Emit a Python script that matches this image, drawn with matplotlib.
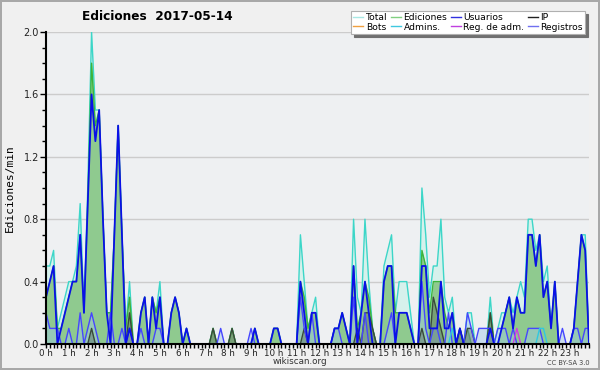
import numpy as np
import matplotlib
matplotlib.use("Agg")
import matplotlib.pyplot as plt
from matplotlib.lines import Line2D
from matplotlib.ticker import MultipleLocator, FixedLocator

# 10-minute bins, values in edits per minute
total = [
    0.5, 0.5, 0.6, 0.1, 0.2, 0.3,
    0.4, 0.4, 0.5, 0.9, 0.2, 1.0,
    2.0, 1.5, 1.5, 0.8, 0.2, 0.2,
    0.7, 1.4, 0.7, 0.1, 0.4, 0.0,
    0.0, 0.2, 0.3, 0.0, 0.3, 0.2,
    0.4, 0.0, 0.0, 0.2, 0.3, 0.2,
    0.0, 0.1, 0.0, 0.0, 0.0, 0.0,
    0.0, 0.0, 0.1, 0.0, 0.0, 0.0,
    0.0, 0.1, 0.0, 0.0, 0.0, 0.0,
    0.0, 0.1, 0.0, 0.0, 0.0, 0.0,
    0.1, 0.1, 0.0, 0.0, 0.0, 0.0,
    0.0, 0.7, 0.4, 0.1, 0.2, 0.3,
    0.0, 0.0, 0.0, 0.0, 0.1, 0.1,
    0.2, 0.1, 0.0, 0.8, 0.3, 0.2,
    0.8, 0.4, 0.1, 0.0, 0.0, 0.5,
    0.6, 0.7, 0.2, 0.4, 0.4, 0.4,
    0.2, 0.0, 0.0, 1.0, 0.7, 0.3,
    0.5, 0.5, 0.8, 0.3, 0.2, 0.3,
    0.0, 0.1, 0.0, 0.2, 0.2, 0.0,
    0.0, 0.0, 0.0, 0.3, 0.0, 0.1,
    0.2, 0.2, 0.3, 0.2, 0.3, 0.4,
    0.3, 0.8, 0.8, 0.6, 0.7, 0.4,
    0.5, 0.1, 0.4, 0.0, 0.0, 0.0,
    0.0, 0.1, 0.4, 0.7, 0.7, 0.0,
]
ediciones = [
    0.3, 0.4, 0.5, 0.1, 0.1, 0.2,
    0.3, 0.4, 0.4, 0.7, 0.2, 0.9,
    1.8, 1.4, 1.5, 0.8, 0.2, 0.2,
    0.7, 1.4, 0.7, 0.1, 0.3, 0.0,
    0.0, 0.2, 0.3, 0.0, 0.3, 0.2,
    0.3, 0.0, 0.0, 0.2, 0.3, 0.2,
    0.0, 0.1, 0.0, 0.0, 0.0, 0.0,
    0.0, 0.0, 0.1, 0.0, 0.0, 0.0,
    0.0, 0.1, 0.0, 0.0, 0.0, 0.0,
    0.0, 0.1, 0.0, 0.0, 0.0, 0.0,
    0.1, 0.1, 0.0, 0.0, 0.0, 0.0,
    0.0, 0.4, 0.3, 0.1, 0.2, 0.2,
    0.0, 0.0, 0.0, 0.0, 0.1, 0.1,
    0.2, 0.1, 0.0, 0.5, 0.1, 0.2,
    0.4, 0.3, 0.1, 0.0, 0.0, 0.4,
    0.5, 0.5, 0.2, 0.2, 0.2, 0.2,
    0.1, 0.0, 0.0, 0.6, 0.5, 0.2,
    0.4, 0.4, 0.4, 0.2, 0.1, 0.2,
    0.0, 0.1, 0.0, 0.1, 0.0, 0.0,
    0.0, 0.0, 0.0, 0.2, 0.0, 0.0,
    0.1, 0.2, 0.3, 0.1, 0.3, 0.2,
    0.2, 0.7, 0.7, 0.5, 0.7, 0.3,
    0.4, 0.1, 0.4, 0.0, 0.0, 0.0,
    0.0, 0.1, 0.4, 0.7, 0.6, 0.0,
]
usuarios = [
    0.3, 0.4, 0.5, 0.0, 0.1, 0.2,
    0.3, 0.4, 0.4, 0.7, 0.2, 0.9,
    1.6, 1.3, 1.5, 0.8, 0.2, 0.0,
    0.7, 1.4, 0.7, 0.0, 0.1, 0.0,
    0.0, 0.2, 0.3, 0.0, 0.3, 0.1,
    0.3, 0.0, 0.0, 0.2, 0.3, 0.2,
    0.0, 0.1, 0.0, 0.0, 0.0, 0.0,
    0.0, 0.0, 0.0, 0.0, 0.0, 0.0,
    0.0, 0.0, 0.0, 0.0, 0.0, 0.0,
    0.0, 0.1, 0.0, 0.0, 0.0, 0.0,
    0.1, 0.1, 0.0, 0.0, 0.0, 0.0,
    0.0, 0.4, 0.2, 0.0, 0.2, 0.2,
    0.0, 0.0, 0.0, 0.0, 0.1, 0.1,
    0.2, 0.1, 0.0, 0.5, 0.0, 0.2,
    0.4, 0.2, 0.0, 0.0, 0.0, 0.4,
    0.5, 0.5, 0.0, 0.2, 0.2, 0.2,
    0.1, 0.0, 0.0, 0.5, 0.5, 0.1,
    0.1, 0.1, 0.4, 0.1, 0.1, 0.2,
    0.0, 0.1, 0.0, 0.0, 0.0, 0.0,
    0.0, 0.0, 0.0, 0.1, 0.0, 0.0,
    0.1, 0.2, 0.3, 0.1, 0.3, 0.2,
    0.2, 0.7, 0.7, 0.5, 0.7, 0.3,
    0.4, 0.1, 0.4, 0.0, 0.0, 0.0,
    0.0, 0.1, 0.4, 0.7, 0.6, 0.0,
]
ip = [0.0] * 144
for _i, _v in [(12, 0.1), (22, 0.2), (44, 0.1), (49, 0.1), (68, 0.1), (82, 0.1),
               (84, 0.2), (85, 0.2), (86, 0.1), (99, 0.1), (102, 0.3), (103, 0.2),
               (104, 0.1), (109, 0.1), (111, 0.1), (112, 0.1), (117, 0.2)]:
    ip[_i] = _v
registros = [0.0] * 144
for _i, _v in [(0, 0.2), (1, 0.1), (2, 0.1), (3, 0.1), (6, 0.1), (9, 0.2), (11, 0.1),
               (12, 0.2), (13, 0.1), (17, 0.2), (20, 0.1), (22, 0.1), (25, 0.1),
               (29, 0.1), (30, 0.1), (46, 0.1), (54, 0.1), (67, 0.3), (68, 0.1),
               (70, 0.2), (76, 0.1), (77, 0.1), (81, 0.3), (84, 0.2), (90, 0.1),
               (91, 0.2), (99, 0.4), (100, 0.1), (102, 0.1), (103, 0.1), (106, 0.2),
               (111, 0.2), (112, 0.1), (114, 0.1), (115, 0.1), (116, 0.1), (117, 0.1),
               (119, 0.1), (120, 0.1), (121, 0.1), (123, 0.1), (127, 0.1), (128, 0.1),
               (129, 0.1), (130, 0.1), (136, 0.1), (139, 0.1), (140, 0.1), (142, 0.1),
               (143, 0.1)]:
    registros[_i] = _v
admins = [0.0] * 144
for _i, _v in [(107, 0.1), (130, 0.1), (131, 0.1)]:
    admins[_i] = _v
reg_adm = [0.0] * 144
reg_adm[124] = 0.1
bots = [0.0] * 144

hour_labels = [f"{h} h" for h in range(24)]
y_labels = ["0.0", "0.4", "0.8", "1.2", "1.6", "2.0"]

x = np.arange(144) / 6.0

fig = plt.figure(figsize=(6.0, 3.7), dpi=100)
fig.patch.set_facecolor("#f0f0f0")
fig.patch.set_edgecolor("#a8a8a8")
fig.patch.set_linewidth(1.5)
ax = fig.add_axes([46 / 600, 26 / 370, 543 / 600, 312 / 370])
ax.set_facecolor("#eef0f2")

# Total
ax.fill_between(x, total, 0, color="#d6f1ec", lw=0, zorder=1)
ax.plot(x, total, color="#3cd6c8", lw=1.0, zorder=2)
# Ediciones
ax.fill_between(x, ediciones, 0, color="#8fca8f", lw=0, zorder=3)
ax.plot(x, ediciones, color="#3cb43c", lw=1.0, zorder=4)
# Registros
ax.fill_between(x, registros, 0, color="#a0c8e8", alpha=0.45, lw=0, zorder=5)
# IP
ax.fill_between(x, ip, 0, color="#404040", alpha=0.3, lw=0, zorder=5)
ax.plot(x, ip, color="#3a4a3a", lw=1.0, zorder=6)
ax.plot(x, registros, color="#4646ff", lw=1.0, zorder=6)
ax.plot(x, admins, color="#30c8e0", lw=1.0, zorder=6)
ax.plot(x, bots, color="#f0a040", lw=1.0, zorder=6)
ax.plot(x, reg_adm, color="#d040e0", lw=1.0, zorder=6)
# Usuarios
ax.plot(x, usuarios, color="#0a10e8", lw=1.3, zorder=7)

ax.set_xlim(0, 143 / 6)
ax.set_ylim(0, 2.0)
ax.yaxis.set_major_locator(FixedLocator([0, 0.4, 0.8, 1.2, 1.6, 2.0]))
ax.set_yticklabels(y_labels)
ax.yaxis.set_minor_locator(MultipleLocator(0.1))
ax.xaxis.set_major_locator(FixedLocator(list(range(24))))
ax.set_xticklabels(hour_labels)
ax.xaxis.set_minor_locator(MultipleLocator(1 / 6))
ax.grid(axis="y", which="major", color="#cccccc", lw=1.0)
ax.set_axisbelow(True)
for s in ["top", "right"]:
    ax.spines[s].set_visible(False)
for s in ["left", "bottom"]:
    ax.spines[s].set_linewidth(1.5)
    ax.spines[s].set_zorder(10)
ax.tick_params(axis="y", which="major", labelsize=7, length=4, width=1, pad=1,
               color="black", labelcolor="#222222")
ax.tick_params(axis="x", which="major", labelsize=6.3, length=3, width=1, pad=0.5,
               color="black", labelcolor="#222222")
ax.tick_params(axis="both", which="minor", length=3, width=1)
ax.set_ylabel("Ediciones/min", family="DejaVu Sans Mono", fontsize=8, labelpad=6)

fig.text(0.263, 0.955, "Ediciones  2017-05-14", fontsize=8.7, fontweight="bold",
         ha="center", va="center")
fig.text(0.5, 0.022, "wikiscan.org", fontsize=6.3, ha="center", va="center", color="#333333")
fig.text(0.983, 0.020, "CC BY-SA 3.0", fontsize=4.8, ha="right", va="center", color="#444444")

leg_items = [
    ("Total", "#a8e8e4"), ("Bots", "#f0a040"),
    ("Ediciones", "#80d080"), ("Admins.", "#40c8e0"),
    ("Usuarios", "#3030e0"), ("Reg. de adm.", "#c040e0"),
    ("IP", "#202020"), ("Registros", "#7070f0"),
]
handles = [Line2D([], [], color=c, lw=1.0) for _, c in leg_items]
labels = [t for t, _ in leg_items]
leg = fig.legend(handles, labels, ncol=4, loc="upper right",
                 bbox_to_anchor=(0.983, 0.983), fontsize=6.6, frameon=True,
                 fancybox=False, shadow={"color": "#707070", "alpha": 1},
                 handlelength=1.1, handletextpad=0.3, columnspacing=0.35,
                 labelspacing=0.05, borderpad=0.25, edgecolor="#b0b0b0")
leg.get_frame().set_facecolor("white")
leg.get_frame().set_linewidth(0.8)

fig.savefig("out.png", dpi=100, facecolor=fig.get_facecolor(), edgecolor=fig.get_edgecolor())
